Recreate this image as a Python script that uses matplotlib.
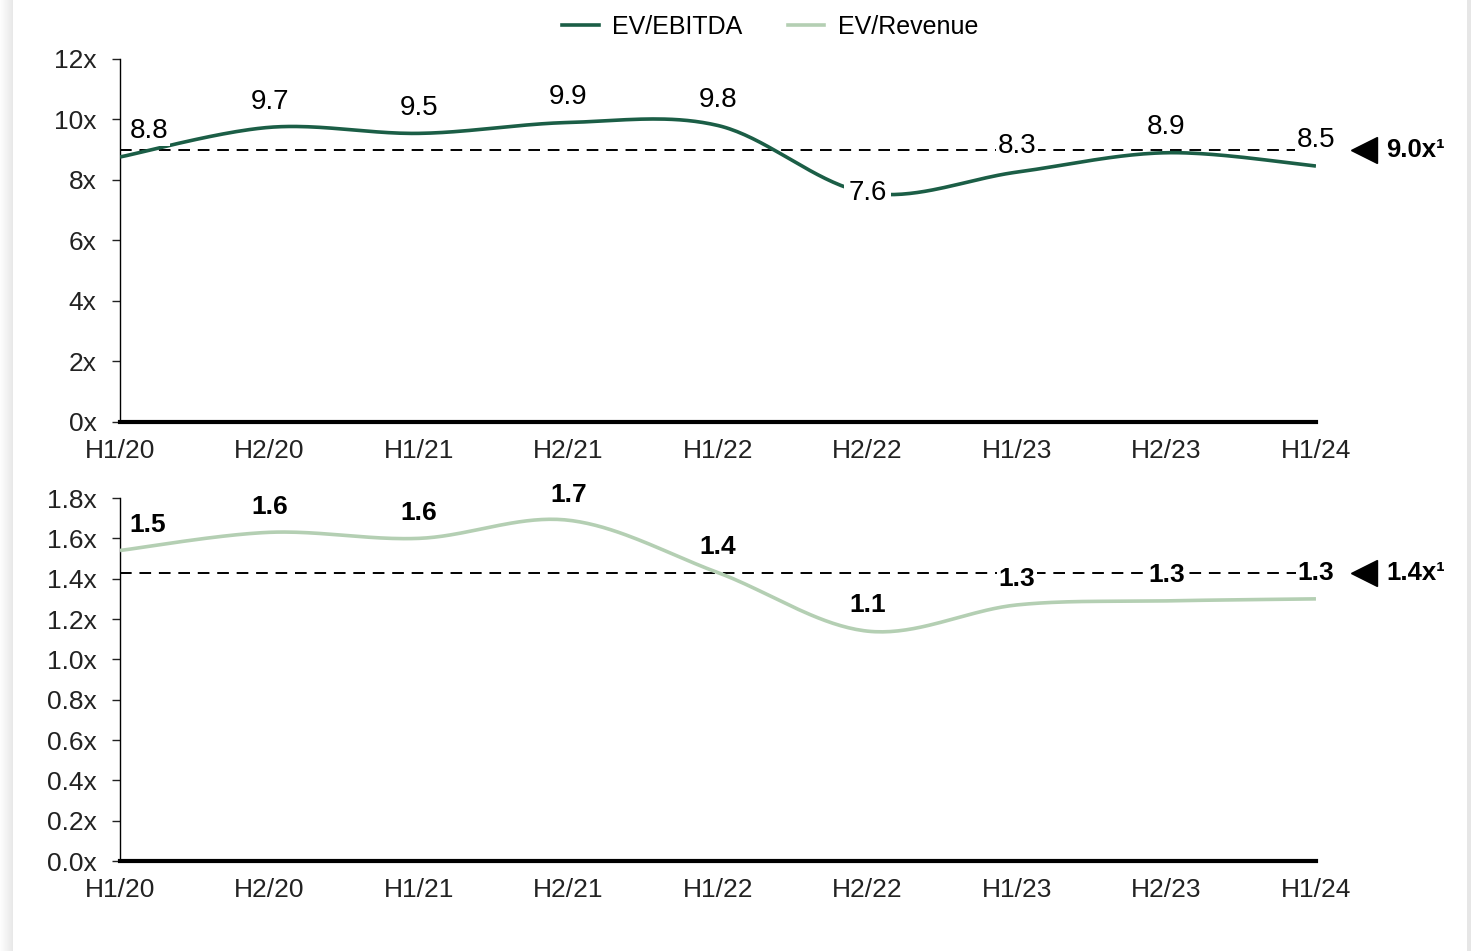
import numpy as np
import matplotlib.pyplot as plt
from matplotlib.patches import Rectangle

plt.rcParams['font.family'] = ['Liberation Sans', 'DejaVu Sans']

# Datos semestrales de múltiplos
periodos = ['H1/20', 'H2/20', 'H1/21', 'H2/21', 'H1/22', 'H2/22', 'H1/23', 'H2/23', 'H1/24']
ev_ebitda = [8.76, 9.74, 9.54, 9.9, 9.8, 7.57, 8.26, 8.9, 8.46]
ev_revenue = [1.54, 1.63, 1.60, 1.69, 1.43, 1.14, 1.27, 1.29, 1.30]
media_ebitda = 9.0
media_revenue = 1.43

verde_oscuro = '#1b5e46'
verde_claro = '#b4cfb3'


# Curva suavizada tipo Excel (bezier con tangentes de Catmull-Rom)
def suavizar(y, n=40):
    x = np.arange(len(y), dtype=float)
    y = np.asarray(y, dtype=float)
    xs, ys = [], []
    for i in range(len(y) - 1):
        i0 = max(i - 1, 0)
        i3 = min(i + 2, len(y) - 1)
        p0 = np.array([x[i], y[i]])
        p3 = np.array([x[i + 1], y[i + 1]])
        c1 = p0 + (np.array([x[i + 1], y[i + 1]]) - np.array([x[i0], y[i0]])) / 6
        c2 = p3 - (np.array([x[i3], y[i3]]) - np.array([x[i], y[i]])) / 6
        t = np.linspace(0, 1, n)[:, None]
        pts = (1 - t) ** 3 * p0 + 3 * (1 - t) ** 2 * t * c1 + 3 * (1 - t) * t ** 2 * c2 + t ** 3 * p3
        xs.extend(pts[:, 0])
        ys.extend(pts[:, 1])
    return np.array(xs), np.array(ys)


def dibujar(ax, valores, color, media, ymax, paso, fmt_tick, negrita, etiqueta_media):
    xs, ys = suavizar(valores)
    ax.plot(xs, ys, color=color, lw=2.6, solid_capstyle='butt', zorder=3)
    ax.axhline(media, color='black', lw=1.4, linestyle=(0, (6, 4)), zorder=2)

    peso = 'bold' if negrita else 'normal'
    tam = 19 if negrita else 20
    for i, v in enumerate(valores):
        texto = f'{v:.1f}'
        if i == 0:
            ax.annotate(texto, (i, v), xytext=(7, 18.5), textcoords='offset points',
                        ha='left', va='center', fontsize=tam, fontweight=peso, zorder=4,
                        bbox=dict(boxstyle='square,pad=0.05', fc='white', ec='none'))
        elif (not negrita) and v == min(valores):
            ax.annotate(texto, (i, v), xytext=(0, 0), textcoords='offset points',
                        ha='center', va='center', fontsize=tam, fontweight=peso, zorder=4,
                        bbox=dict(boxstyle='square,pad=0.15', fc='white', ec='none'))
        else:
            ax.annotate(texto, (i, v), xytext=(0, 18.5), textcoords='offset points',
                        ha='center', va='center', fontsize=tam, fontweight=peso, zorder=4,
                        bbox=dict(boxstyle='square,pad=0.05', fc='white', ec='none'))

    # Marcador de la media a la derecha
    ax.plot([8.32], [media], marker='<', color='black', markersize=19, clip_on=False)
    ax.annotate(etiqueta_media, (8.47, media), ha='left', va='center',
                fontsize=18.5, fontweight='bold', annotation_clip=False)

    ax.set_xlim(0, 8)
    ax.set_ylim(0, ymax)
    ax.set_yticks(np.arange(0, ymax + paso / 2, paso))
    ax.set_yticklabels([fmt_tick(t) for t in np.arange(0, ymax + paso / 2, paso)])
    ax.set_xticks(range(len(periodos)))
    ax.set_xticklabels(periodos)
    ax.tick_params(axis='y', length=6, width=1, labelsize=19, pad=11, colors='#222222')
    ax.tick_params(axis='x', length=0, labelsize=19, pad=12, colors='#222222')
    for s in ['top', 'right']:
        ax.spines[s].set_visible(False)
    ax.spines['left'].set_linewidth(1)
    ax.spines['bottom'].set_linewidth(3)
    ax.spines['bottom'].set_zorder(5)


fig = plt.figure(figsize=(14.71, 9.51), dpi=100)
ax1 = fig.add_axes([0.0816, 0.5563, 0.8130, 0.3817])
ax2 = fig.add_axes([0.0816, 0.0946, 0.8130, 0.3817])

dibujar(ax1, ev_ebitda, verde_oscuro, media_ebitda, 12, 2, lambda t: f'{t:g}x', False,
        f'{media_ebitda:.1f}x\u00b9')
dibujar(ax2, ev_revenue, verde_claro, media_revenue, 1.8, 0.2, lambda t: f'{t:.1f}x', True,
        f'{media_revenue:.1f}x\u00b9')

# Leyenda
l1, = ax1.plot([], [], color=verde_oscuro, lw=2.6)
l2, = ax1.plot([], [], color=verde_claro, lw=2.6)
fig.legend([l1, l2], ['EV/EBITDA', 'EV/Revenue'], loc='center', bbox_to_anchor=(0.5235, 0.9716),
           ncol=2, frameon=False, fontsize=18, handlelength=1.45, handletextpad=0.55,
           columnspacing=1.8)

# Bordes grises de la tarjeta
for k in range(13):
    g = 1 - 0.09 * (k + 1) / 13
    fig.patches.append(Rectangle((k / 1471, 0), 1 / 1471, 1, transform=fig.transFigure,
                                 facecolor=(g, g, g), edgecolor='none'))
fig.patches.append(Rectangle((1467 / 1471, 0), 4 / 1471, 1, transform=fig.transFigure,
                             facecolor='#e6e6e6', edgecolor='none'))

fig.savefig('out.png', dpi=100, facecolor='white')
